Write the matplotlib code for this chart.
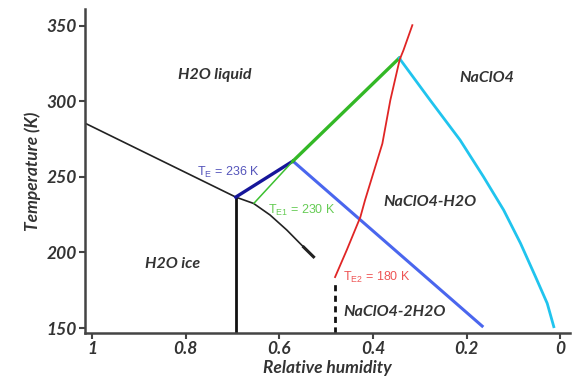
import matplotlib
matplotlib.use("Agg")
import matplotlib.pyplot as plt

# ---- data (relative humidity, temperature K) ----
ice_rh = [1.015, 0.693, 0.655, 0.62, 0.584, 0.556, 0.527]
ice_T = [285.5, 236.6, 232.4, 224.8, 214.8, 206.0, 197.1]

eut_rh = [0.693, 0.693]
eut_T = [146.7, 236.6]

te_blue_rh = [0.693, 0.571]
te_blue_T = [236.6, 260.4]

mono_rh = [0.571, 0.167]
mono_T = [260.4, 151.3]

green_thin_rh = [0.654, 0.571]
green_thin_T = [232.6, 260.4]
green_thick_rh = [0.571, 0.344]
green_thick_T = [260.4, 328.5]

cyan_rh = [0.344, 0.278, 0.214, 0.164, 0.121, 0.085, 0.053, 0.028, 0.014]
cyan_T = [328.5, 300.7, 274.3, 250.0, 228.0, 206.0, 183.9, 166.3, 150.9]

red_rh = [0.316, 0.335, 0.343, 0.363, 0.380, 0.417, 0.427, 0.456, 0.481]
red_T = [350.3, 333.7, 327.6, 300.7, 272.0, 234.6, 223.4, 201.6, 183.7]

dash_rh = [0.481, 0.481]
dash_T = [146.7, 181.0]

xticks = [1, 0.8, 0.6, 0.4, 0.2, 0]
xticklabels = ["1", "0.8", "0.6", "0.4", "0.2", "0"]
yticks = [150, 200, 250, 300, 350]

fig = plt.figure(figsize=(5.86, 3.83), dpi=100)
ax = fig.add_axes([0.145, 0.1305, 0.828, 0.846])
ax.set_xlim(1.015, -0.021)
ax.set_ylim(146.7, 361)

ax.plot(ice_rh, ice_T, color="#222222", lw=1.2, solid_capstyle="round",
        solid_joinstyle="round")
ax.plot([0.548, 0.527], [203.5, 197.1], color="#222222", lw=2.2)
ax.plot(eut_rh, eut_T, color="#111111", lw=2.0)
ax.plot(dash_rh, dash_T, color="#111111", lw=2.0, linestyle=(0, (2.2, 1.6)))
ax.plot(mono_rh, mono_T, color="#4a66ee", lw=2.2)
ax.plot(te_blue_rh, te_blue_T, color="#16169a", lw=2.4)
ax.plot(green_thin_rh, green_thin_T, color="#3cc030", lw=1.1)
ax.plot(green_thick_rh, green_thick_T, color="#33b826", lw=2.4)
ax.plot(cyan_rh, cyan_T, color="#20c4ee", lw=2.0, solid_joinstyle="round")
ax.plot(red_rh, red_T, color="#e02525", lw=1.3, solid_joinstyle="round")

lab = dict(family="Lato", style="italic", weight="bold", color="#333333", fontsize=11.5)
ax.text(0.737, 317.2, "H2O liquid", ha="center", va="center", **lab)
ax.text(0.156, 315.2, "NaClO4", ha="center", va="center", **lab)
ax.text(0.278, 233.3, "NaClO4-H2O", ha="center", va="center", **lab)
ax.text(0.827, 192.3, "H2O ice", ha="center", va="center", **lab)
ax.text(0.353, 160.6, "NaClO4-2H2O", ha="center", va="center", **lab)

te = dict(family="Liberation Sans", fontsize=9, ha="left", va="center")
ax.text(0.776, 253.1, r"T$_\mathregular{E}$ = 236 K", color="#5555bb", **te)
ax.text(0.624, 228.0, r"T$_\mathregular{E1}$ = 230 K", color="#66cc55", **te)
ax.text(0.464, 183.7, r"T$_\mathregular{E2}$ = 180 K", color="#ee5555", **te)

ax.set_xticks(xticks)
ax.set_xticklabels(xticklabels)
ax.set_yticks(yticks)
for s in ["top", "right"]:
    ax.spines[s].set_visible(False)
for s in ["left", "bottom"]:
    ax.spines[s].set_linewidth(1.8)
    ax.spines[s].set_color("#444444")
ax.tick_params(direction="out", length=4, width=1.5, color="#444444",
               labelsize=12.5, labelcolor="#333333", pad=2)
for t in ax.get_xticklabels() + ax.get_yticklabels():
    t.set_family("Lato")
    t.set_style("italic")
    t.set_weight("bold")

ax.set_xlabel("Relative humidity", family="Lato", style="italic", weight="bold",
              color="#333333", fontsize=12.5, labelpad=2)
ax.set_ylabel("Temperature (K)", family="Lato", style="italic", weight="bold",
              color="#333333", fontsize=12.5, labelpad=4)

fig.savefig("out.png", dpi=100)
